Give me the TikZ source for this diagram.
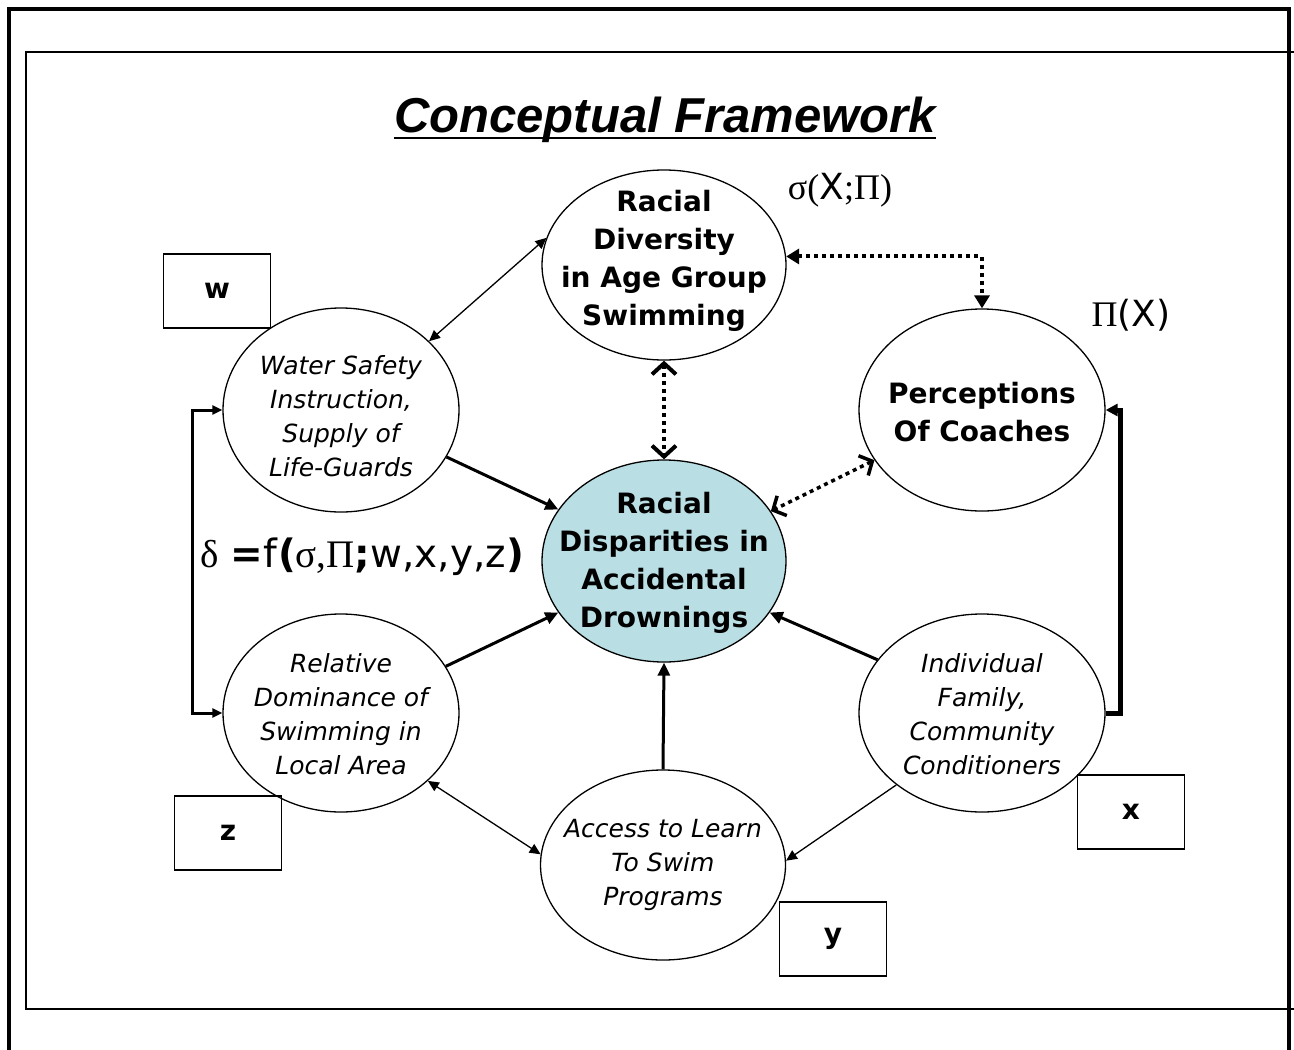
\documentclass[tikz,border=0pt]{standalone}
\usepackage{fontspec}
\setmainfont{DejaVu Sans}
\newfontfamily\serif{Liberation Serif}
\newfontfamily\arial{Liberation Sans}
\usetikzlibrary{shapes.geometric,arrows.meta}
\definecolor{bleuclair}{RGB}{185,223,228}

\begin{document}
\begin{tikzpicture}[
    x=1pt, y=-1pt,
    bulle/.style={draw, ellipse, line width=1.3pt, inner sep=0pt},
    gras/.style={font=\fontsize{28}{38}\selectfont\bfseries, align=center},
    ital/.style={font=\fontsize{25}{34}\selectfont\itshape, align=center},
    boite/.style={draw, line width=1.3pt, minimum width=107pt, minimum height=74pt, font=\fontsize{28}{34}\selectfont\bfseries},
    fin/.style={line width=1.3pt, arrows={-Triangle[length=11pt,width=10pt]}},
    findouble/.style={line width=1.3pt, arrows={Triangle[length=11pt,width=10pt]-Triangle[length=11pt,width=10pt]}},
    epais/.style={line width=3pt, arrows={-Triangle[length=13pt,width=12pt]}},
    pointille/.style={line width=4pt, dash pattern=on 4pt off 4pt},
    formule/.style={font=\fontsize{36}{40}\selectfont}
]

\useasboundingbox (0,0) rectangle (1294,1050);

% Cadres
\draw[line width=4pt] (9,1050) -- (9,9) -- (1289,9) -- (1289,1050);
\draw[line width=2.5pt] (1294,52) -- (26,52) -- (26,1009) -- (1294,1009);

% Titre
\node[font=\arial\fontsize{49}{55}\selectfont\bfseries\itshape, anchor=base, inner sep=0pt] (titre) at (665,132) {Conceptual Framework};
\draw[line width=2.5pt] ([yshift=-6pt]titre.base west) -- ([yshift=-6pt]titre.base east);

% Ellipses
\node[bulle, minimum width=244pt, minimum height=190pt] (div) at (664,265) {};
\node[bulle, fill=bleuclair, minimum width=244pt, minimum height=202pt] (drown) at (664,561) {};
\node[bulle, minimum width=236pt, minimum height=204pt] (water) at (341,410) {};
\node[bulle, minimum width=246pt, minimum height=202pt] (perc) at (982,410) {};
\node[bulle, minimum width=236pt, minimum height=198pt] (rel) at (341,713) {};
\node[bulle, minimum width=246pt, minimum height=198pt] (ind) at (982,713) {};
\node[bulle, minimum width=245pt, minimum height=190pt] (acc) at (663,865) {};

% Textes des ellipses
\node[gras] (div-t) at (664,261) {Racial\\Diversity\\in Age Group\\Swimming};
\node[gras] (drown-t) at (664,563) {Racial\\Disparities in\\Accidental\\Drownings};
\node[gras] (perc-t) at (982,412) {Perceptions\\Of Coaches};
\node[ital] (water-t) at (341,416) {Water Safety\\Instruction,\\Supply of\\Life-Guards};
\node[ital] (rel-t) at (341,714) {Relative\\Dominance of\\Swimming in\\Local Area};
\node[ital] (ind-t) at (982,714) {Individual\\Family,\\Community\\Conditioners};
\node[ital] (acc-t) at (663,865) {Access to Learn\\To Swim\\Programs};

% Boites des variables
\node[boite] (bw) at (217,291) {w};
\node[boite] (bz) at (228,833) {z};
\node[boite] (bx) at (1131,812) {x};
\node[boite] (by) at (833,939) {y};

% Formules
\node[formule] (sigmax) at (840,190) {{\serif σ(}X{\serif ;Π)}};
\node[formule] (pix) at (1131,315) {{\serif Π}(X)};
\node[formule, font=\fontsize{39}{42}\selectfont] (delta) at (362,557) {{\serif δ} \textbf{=}f\textbf{(}{\serif σ,Π}\textbf{;}w,x,y,z\textbf{)}};

% Liens vers le centre
\draw[epais] (water.-24) -- (drown.154);
\draw[epais] (rel.24) -- (drown.206);
\draw[epais] (ind.153) -- (drown.-26);
\draw[epais] (acc.north) -- (drown.south);

% Liens fins
\draw[findouble] (water.38) -- (div.167);
\draw[findouble] (rel.-38) -- (acc.175);
\draw[fin] (ind.220) -- (acc.2);

% Liens en pointilles
\draw[pointille, arrows={Straight Barb[length=11pt,width=24pt]-Straight Barb[length=11pt,width=24pt]}] (div.south) -- (drown.north);
\draw[pointille, line width=3.5pt, arrows={Straight Barb[length=10pt,width=22pt]-Straight Barb[length=10pt,width=22pt]}] (perc.205) -- (drown.25);
\draw[pointille, arrows={Triangle[length=13pt,width=15pt]-Triangle[length=13pt,width=15pt]}] (div.4) -| (perc.north);

% Accolades laterales
\draw[line width=3pt, arrows={Triangle[length=10pt,width=9pt]-Triangle[length=10pt,width=9pt]}] (water.west) -- ++(-30,0) |- (rel.west);
\draw[line width=5pt, arrows={-Triangle[length=12pt,width=12pt]}] (ind.east) -- ++(15,0) |- (perc.east);

\end{tikzpicture}
\end{document}
